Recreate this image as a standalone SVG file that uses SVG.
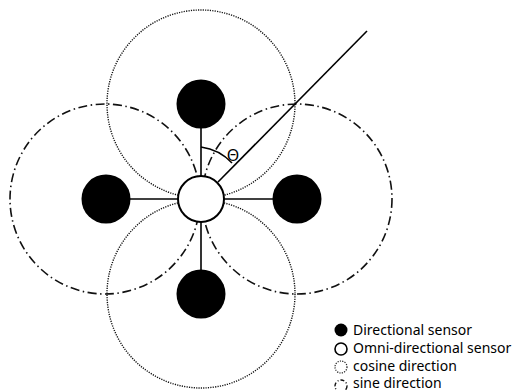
<svg xmlns="http://www.w3.org/2000/svg" width="518" height="390" viewBox="0 0 518 390">
<defs>
<style>
.cos{fill:none;stroke:#111;stroke-width:1.4;stroke-dasharray:1.2 1.2}
.sin{fill:none;stroke:#111;stroke-width:1.6;stroke-dasharray:9 3.5 1.5 3.5}
.dir{fill:#000}
.omni{fill:#fff;stroke:#000;stroke-width:2}
.ln{stroke:#000;stroke-width:1.6;fill:none}
.lbl{font-family:"Noto Sans","Open Sans",sans-serif;font-size:14px;fill:#000}
</style>
</defs>
<rect width="518" height="390" fill="#fff"/>
<g id="patterns">
<circle class="cos" cx="201" cy="104" r="94"/>
<circle class="cos" cx="201" cy="294" r="94"/>
<circle class="sin" cx="105" cy="199" r="95"/>
<circle class="sin" cx="297" cy="199" r="95"/>
</g>
<g id="connectors">
<line class="ln" x1="201" y1="128" x2="201" y2="176"/>
<line class="ln" x1="201" y1="222" x2="201" y2="270"/>
<line class="ln" x1="130" y1="199" x2="178" y2="199"/>
<line class="ln" x1="224" y1="199" x2="273" y2="199"/>
<line class="ln" x1="218" y1="182" x2="367" y2="31" stroke-width="1.2"/>
<path class="ln" d="M201,147 A52,52 0 0 1 232,163" stroke-width="1.2"/>
</g>
<g id="sensor-top"><circle class="dir" cx="201" cy="104" r="24.5"/></g>
<g id="sensor-bottom"><circle class="dir" cx="201" cy="294" r="24.5"/></g>
<g id="sensor-left"><circle class="dir" cx="106" cy="199" r="24.5"/></g>
<g id="sensor-right"><circle class="dir" cx="297" cy="199" r="24.5"/></g>
<g id="omni"><circle class="omni" cx="201" cy="199" r="23"/></g>
<text class="lbl" x="233" y="161" text-anchor="middle" style="font-size:16px">Θ</text>
<g id="legend">
<circle class="dir" cx="341" cy="330" r="6.5"/>
<circle cx="341" cy="349" r="6" fill="none" stroke="#000" stroke-width="1.6"/>
<circle cx="341" cy="367" r="6" fill="none" stroke="#222" stroke-width="1.2" stroke-dasharray="1.2 1.2"/>
<circle cx="341" cy="386" r="6" fill="none" stroke="#111" stroke-width="1.4" stroke-dasharray="4 2 1 2"/>
<text class="lbl" x="353" y="335">Directional sensor</text>
<text class="lbl" x="353" y="353">Omni-directional sensor</text>
<text class="lbl" x="353" y="371">cosine direction</text>
<text class="lbl" x="353" y="388">sine direction</text>
</g>
</svg>
